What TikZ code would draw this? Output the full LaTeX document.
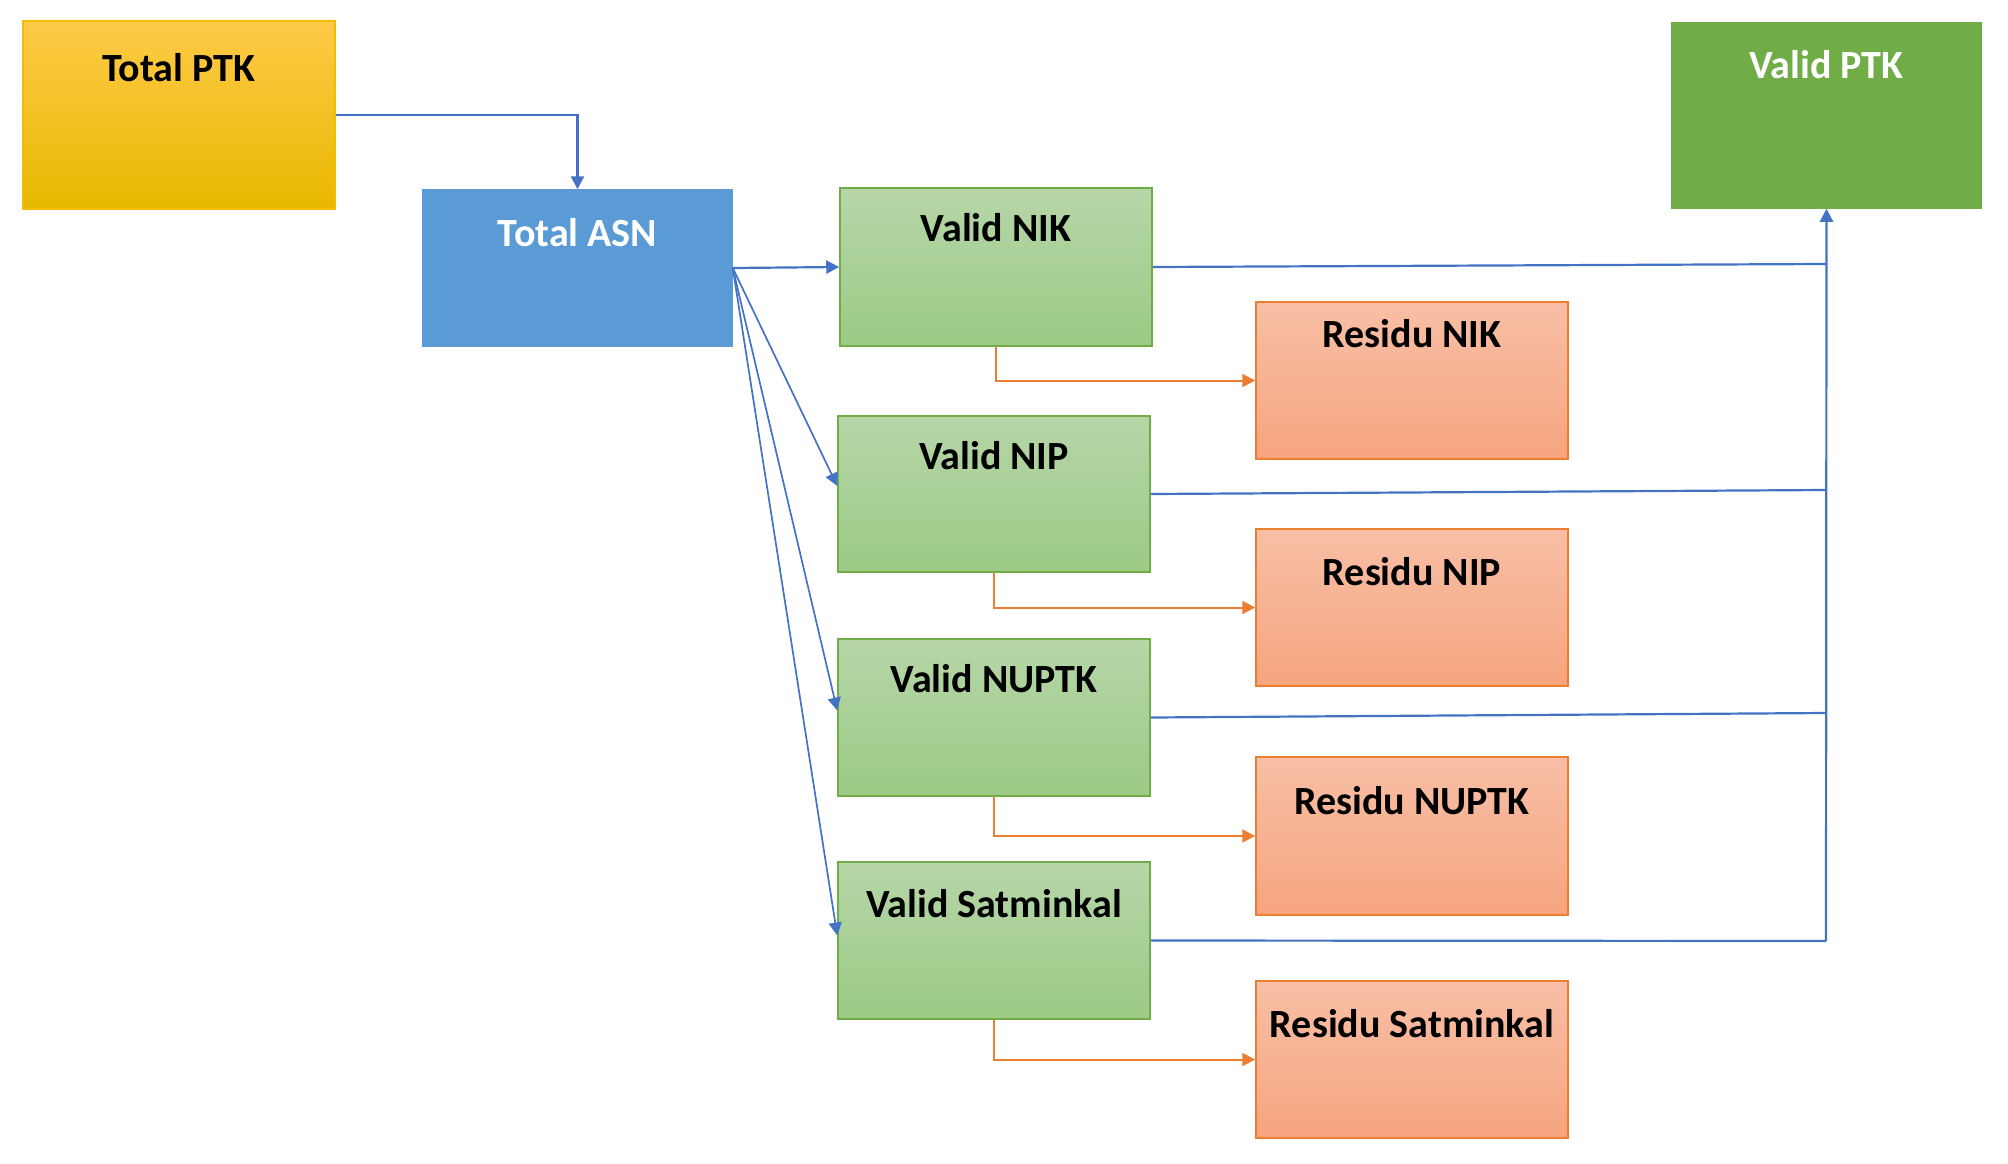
\documentclass[tikz,border=0pt]{standalone}
\usepackage{fontspec}
\setmainfont{Carlito}
\usetikzlibrary{arrows.meta,fit}
\definecolor{bline}{HTML}{4472C4}
\definecolor{oline}{HTML}{ED7D31}
\definecolor{asnfill}{HTML}{5B9BD5}
\definecolor{vptkfill}{HTML}{70AD47}
\definecolor{ptktop}{HTML}{FFCA48}
\definecolor{ptkmid}{HTML}{FFC400}
\definecolor{ptkbot}{HTML}{E8B800}
\definecolor{ptkborder}{HTML}{F2BC00}
\definecolor{vtop}{HTML}{B6D6A8}
\definecolor{vbot}{HTML}{9CCA86}
\definecolor{vborder}{HTML}{70AD47}
\definecolor{rtop}{HTML}{F8BFA6}
\definecolor{rbot}{HTML}{F6A47E}
\definecolor{rborder}{HTML}{ED7D31}
\tikzset{
  boxbase/.style={rectangle, inner sep=0pt, line width=0.75pt},
  ptkbox/.style={boxbase, draw=ptkborder, top color=ptktop, middle color=ptkmid, bottom color=ptkbot},
  asnbox/.style={boxbase, draw=asnfill, fill=asnfill},
  vptkbox/.style={boxbase, draw=vptkfill, fill=vptkfill},
  validbox/.style={boxbase, draw=vborder, top color=vtop, bottom color=vbot},
  residubox/.style={boxbase, draw=rborder, top color=rtop, bottom color=rbot},
  lbl/.style={anchor=base, inner sep=0pt, font=\bfseries\fontsize{20pt}{24pt}\selectfont},
  whitelbl/.style={lbl, text=white},
  bconn/.style={draw=bline, line width=1.1pt},
  barrow/.style={bconn, -{Triangle[length=6.5pt,width=6.5pt]}},
  darrow/.style={draw=bline, line width=0.85pt, -{Triangle[length=6.5pt,width=6.5pt]}},
  oarrow/.style={draw=oline, line width=1pt, -{Triangle[length=6.5pt,width=6.5pt]}},
}
\begin{document}
\begin{tikzpicture}[x=0.5pt,y=-0.5pt]
\useasboundingbox (0,0) rectangle (2008,1163);
% boxes
\node[ptkbox, fit={(23,21) (335,209)}] (ptk) {};
\node[asnbox, fit={(423,190) (732,346)}] (asn) {};
\node[vptkbox, fit={(1672,23) (1981,208)}] (vptk) {};
\node[validbox, fit={(840,188) (1152,346)}] (nik) {};
\node[validbox, fit={(838,416) (1150,572)}] (nip) {};
\node[validbox, fit={(838,639) (1150,796)}] (nuptk) {};
\node[validbox, fit={(838,862) (1150,1019)}] (sat) {};
\node[residubox, fit={(1256,302) (1568,459)}] (rnik) {};
\node[residubox, fit={(1256,529) (1568,686)}] (rnip) {};
\node[residubox, fit={(1256,757) (1568,915)}] (rnuptk) {};
\node[residubox, fit={(1256,981) (1568,1138)}] (rsat) {};
% labels
\node[lbl] (tptk) at ([yshift=-30.5pt]ptk.north) {Total PTK};
\node[whitelbl] (tasn) at ([yshift=-28.5pt]asn.north) {Total ASN};
\node[whitelbl] (tvptk) at ([yshift=-28pt]vptk.north) {Valid PTK};
\node[lbl] (tnik) at ([yshift=-27pt]nik.north) {Valid NIK};
\node[lbl] (tnip) at ([yshift=-27pt]nip.north) {Valid NIP};
\node[lbl] (tnuptk) at ([yshift=-27pt]nuptk.north) {Valid NUPTK};
\node[lbl] (tsat) at ([yshift=-28pt]sat.north) {Valid Satminkal};
\node[lbl] (trnik) at ([yshift=-23pt]rnik.north) {Residu NIK};
\node[lbl] (trnip) at ([yshift=-28.5pt]rnip.north) {Residu NIP};
\node[lbl] (trnuptk) at ([yshift=-29pt]rnuptk.north) {Residu NUPTK};
\node[lbl] (trsat) at ([yshift=-28.5pt]rsat.north) {Residu Satminkal};
% junctions on the collector line
\coordinate (j1) at (1826,264);
\coordinate (j2) at (1826,490);
\coordinate (j3) at (1826,713);
\coordinate (j4) at (1826,941);
% Total PTK -> Total ASN
\draw[barrow] (ptk.east |- 0,115) -| (asn.north);
% Total ASN -> valid boxes
\draw[barrow] (asn.east) -- (nik.west);
\draw[darrow] (asn.east) -- ([yshift=4pt]nip.west);
\draw[darrow] (asn.east) -- ([yshift=3.5pt]nuptk.west);
\draw[darrow] (asn.east) -- ([yshift=2.5pt]sat.west);
% valid boxes -> Valid PTK
\draw[bconn] (nik.east) -- (j1);
\draw[bconn] (nip.east) -- (j2);
\draw[bconn] (nuptk.east) -- (j3);
\draw[bconn] (sat.east) -- (j4);
\draw[barrow] (j4) -- (vptk.south);
% valid -> residu
\draw[oarrow] (nik.south) |- (rnik.west);
\draw[oarrow] (nip.south) |- (rnip.west);
\draw[oarrow] (nuptk.south) |- (rnuptk.west);
\draw[oarrow] (sat.south) |- (rsat.west);
\end{tikzpicture}
\end{document}
